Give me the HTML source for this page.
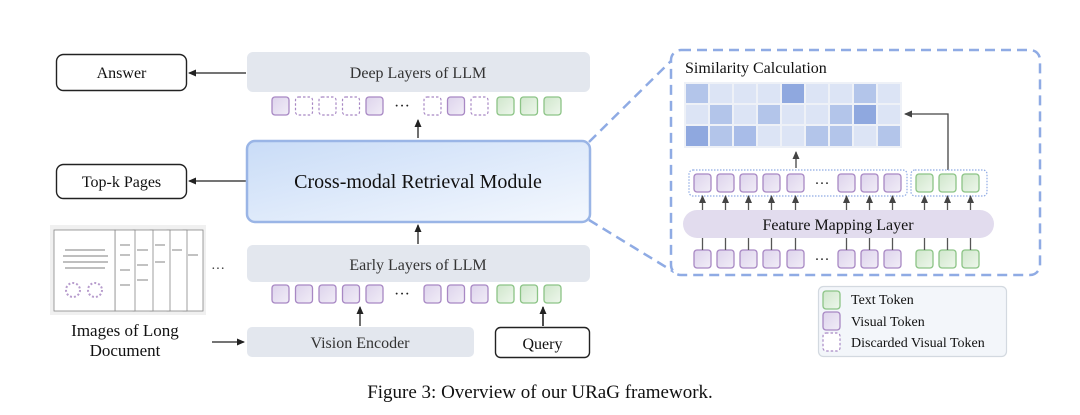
<!DOCTYPE html>
<html><head><meta charset="utf-8"><style>
html,body{margin:0;padding:0;background:#fff;}
svg{display:block;font-family:"Liberation Serif",serif;}
</style></head><body>
<svg width="1080" height="415" viewBox="0 0 1080 415" xmlns="http://www.w3.org/2000/svg">
<defs>
<marker id="ah" markerWidth="8" markerHeight="8" refX="7" refY="4" orient="auto" markerUnits="userSpaceOnUse"><path d="M0,0.5 L8,4 L0,7.5 Z" fill="#222"/></marker>
<marker id="ah2" markerWidth="8" markerHeight="8" refX="7" refY="4" orient="auto" markerUnits="userSpaceOnUse"><path d="M0,0.5 L8,4 L0,7.5 Z" fill="#444"/></marker>
<linearGradient id="cg" x1="0" y1="0" x2="1" y2="1"><stop offset="0" stop-color="#c9dcf7"/><stop offset="1" stop-color="#f4f8fe"/></linearGradient>
<linearGradient id="pt" x1="0" y1="0" x2="1" y2="1"><stop offset="0" stop-color="#ddd3ec"/><stop offset="1" stop-color="#f1edf7"/></linearGradient>
<linearGradient id="gt" x1="0" y1="0" x2="1" y2="1"><stop offset="0" stop-color="#cfe6cb"/><stop offset="1" stop-color="#eef7ec"/></linearGradient>
<g id="vt"><rect width="17" height="18" rx="3" fill="url(#pt)" stroke="#a888c4" stroke-width="1.3"/></g>
<g id="dt"><rect width="17" height="18" rx="3" fill="#fff" stroke="#a888c4" stroke-width="1.2" stroke-dasharray="2.5,2"/></g>
<g id="tt"><rect width="17" height="18" rx="3" fill="url(#gt)" stroke="#8cc486" stroke-width="1.3"/></g>
</defs>

<!-- Answer / Top-k -->
<rect x="56.5" y="54.5" width="130" height="36" rx="7" fill="#fff" stroke="#222" stroke-width="1.4"/>
<text x="121.5" y="78" font-size="16" text-anchor="middle" fill="#111">Answer</text>
<rect x="56.5" y="164.5" width="130" height="34" rx="7" fill="#fff" stroke="#222" stroke-width="1.4"/>
<text x="121.5" y="187" font-size="16" text-anchor="middle" fill="#111">Top-k Pages</text>
<line x1="246" y1="73" x2="189" y2="73" stroke="#222" stroke-width="1.3" marker-end="url(#ah)"/>
<line x1="246" y1="181" x2="189" y2="181" stroke="#222" stroke-width="1.3" marker-end="url(#ah)"/>

<!-- Deep layers -->
<rect x="247" y="52" width="343" height="40" rx="6" fill="#e3e7ee"/>
<text x="418" y="78" font-size="16" text-anchor="middle" fill="#333">Deep Layers of LLM</text>
<use href="#vt" x="272" y="97"/><use href="#dt" x="295.5" y="97"/><use href="#dt" x="319" y="97"/><use href="#dt" x="342.5" y="97"/><use href="#vt" x="366" y="97"/>
<text x="402" y="111" font-size="16" text-anchor="middle" fill="#222">···</text>
<use href="#dt" x="424" y="97"/><use href="#vt" x="447.5" y="97"/><use href="#dt" x="471" y="97"/>
<use href="#tt" x="497" y="97"/><use href="#tt" x="520.5" y="97"/><use href="#tt" x="544" y="97"/>
<line x1="418" y1="138" x2="418" y2="120" stroke="#222" stroke-width="1.3" marker-end="url(#ah)"/>

<!-- Cross-modal -->
<rect x="247" y="141" width="343" height="81" rx="8" fill="url(#cg)" stroke="#9ab5e6" stroke-width="2.5"/>
<text x="418" y="188" font-size="20" text-anchor="middle" fill="#111">Cross-modal Retrieval Module</text>
<line x1="418" y1="244" x2="418" y2="225" stroke="#222" stroke-width="1.3" marker-end="url(#ah)"/>

<!-- Early layers -->
<rect x="247" y="245" width="343" height="37" rx="6" fill="#e3e7ee"/>
<text x="418" y="270" font-size="16" text-anchor="middle" fill="#333">Early Layers of LLM</text>
<use href="#vt" x="272" y="285"/><use href="#vt" x="295.5" y="285"/><use href="#vt" x="319" y="285"/><use href="#vt" x="342.5" y="285"/><use href="#vt" x="366" y="285"/>
<text x="402" y="299" font-size="16" text-anchor="middle" fill="#222">···</text>
<use href="#vt" x="424" y="285"/><use href="#vt" x="447.5" y="285"/><use href="#vt" x="471" y="285"/>
<use href="#tt" x="497" y="285"/><use href="#tt" x="520.5" y="285"/><use href="#tt" x="544" y="285"/>
<line x1="360" y1="326" x2="360" y2="307" stroke="#222" stroke-width="1.3" marker-end="url(#ah)"/>
<line x1="543" y1="326" x2="543" y2="307" stroke="#222" stroke-width="1.6" marker-end="url(#ah)"/>

<!-- Vision encoder / query -->
<rect x="247" y="327" width="227" height="30" rx="5" fill="#e3e7ee"/>
<text x="360" y="348" font-size="16" text-anchor="middle" fill="#333">Vision Encoder</text>
<rect x="495.5" y="327.5" width="94" height="30" rx="5" fill="#fff" stroke="#222" stroke-width="1.4"/>
<text x="542.5" y="349" font-size="16" text-anchor="middle" fill="#111">Query</text>
<line x1="212" y1="342" x2="244" y2="342" stroke="#222" stroke-width="1.3" marker-end="url(#ah)"/>

<!-- Document images -->
<rect x="50" y="225" width="156" height="90" fill="#e6e6e6" opacity="0.6"/>
<g stroke="#888" stroke-width="0.8" fill="#fff">
<rect x="183" y="230" width="20" height="81"/>
<rect x="167" y="230" width="20" height="81"/>
<rect x="150" y="230" width="20" height="81"/>
<rect x="133" y="230" width="20" height="81"/>
<rect x="115" y="230" width="20" height="81"/>
<rect x="54" y="230" width="61" height="81"/>
</g>
<g stroke="#999" stroke-width="1.2">
<line x1="65" y1="250" x2="105" y2="250"/><line x1="63" y1="256" x2="108" y2="256"/><line x1="63" y1="262" x2="108" y2="262"/><line x1="65" y1="268" x2="105" y2="268"/>
<line x1="120" y1="245" x2="130" y2="245"/><line x1="120" y1="255" x2="130" y2="255"/><line x1="120" y1="270" x2="130" y2="270"/><line x1="120" y1="285" x2="130" y2="285"/>
<line x1="137" y1="250" x2="148" y2="250"/><line x1="137" y1="265" x2="148" y2="265"/><line x1="137" y1="280" x2="148" y2="280"/>
<line x1="155" y1="245" x2="165" y2="245"/><line x1="155" y1="262" x2="165" y2="262"/>
<line x1="172" y1="250" x2="182" y2="250"/><line x1="188" y1="255" x2="198" y2="255"/>
</g>
<circle cx="73" cy="290" r="7" fill="none" stroke="#b79ccd" stroke-width="2" stroke-dasharray="2,2"/>
<circle cx="95" cy="290" r="7" fill="none" stroke="#b79ccd" stroke-width="2" stroke-dasharray="2,2"/>
<text x="218" y="273" font-size="14" text-anchor="middle" fill="#333">···</text>
<text x="125" y="336" font-size="17" text-anchor="middle" fill="#111">Images of Long</text>
<text x="125" y="356" font-size="17" text-anchor="middle" fill="#111">Document</text>

<!-- Connecting dashed lines -->
<line x1="589" y1="142" x2="672" y2="60" stroke="#8fabe4" stroke-width="2.5" stroke-dasharray="10,6"/>
<line x1="589" y1="220" x2="674" y2="272" stroke="#8fabe4" stroke-width="2.5" stroke-dasharray="10,6"/>

<!-- Right panel -->
<rect x="671" y="50" width="369" height="225" rx="10" fill="#fff" stroke="#8fabe4" stroke-width="2.5" stroke-dasharray="10,6"/>
<text x="685" y="73" font-size="16" fill="#111">Similarity Calculation</text>
<rect x="684" y="82" width="218" height="66" fill="#eef1f7"/>
<g id="grid"></g>
<g>
<!-- row1 -->
<rect x="686" y="84" width="22" height="19" fill="#b3c5ea"/><rect x="710" y="84" width="22" height="19" fill="#dce4f5"/><rect x="734" y="84" width="22" height="19" fill="#dce4f5"/><rect x="758" y="84" width="22" height="19" fill="#dce4f5"/><rect x="782" y="84" width="22" height="19" fill="#8fa8df"/><rect x="806" y="84" width="22" height="19" fill="#dce4f5"/><rect x="830" y="84" width="22" height="19" fill="#dce4f5"/><rect x="854" y="84" width="22" height="19" fill="#b3c5ea"/><rect x="878" y="84" width="22" height="19" fill="#dce4f5"/>
<!-- row2 -->
<rect x="686" y="105" width="22" height="19" fill="#dce4f5"/><rect x="710" y="105" width="22" height="19" fill="#b3c5ea"/><rect x="734" y="105" width="22" height="19" fill="#dce4f5"/><rect x="758" y="105" width="22" height="19" fill="#b3c5ea"/><rect x="782" y="105" width="22" height="19" fill="#dce4f5"/><rect x="806" y="105" width="22" height="19" fill="#dce4f5"/><rect x="830" y="105" width="22" height="19" fill="#b3c5ea"/><rect x="854" y="105" width="22" height="19" fill="#8fa8df"/><rect x="878" y="105" width="22" height="19" fill="#dce4f5"/>
<!-- row3 -->
<rect x="686" y="126" width="22" height="20" fill="#8fa8df"/><rect x="710" y="126" width="22" height="20" fill="#b3c5ea"/><rect x="734" y="126" width="22" height="20" fill="#a8bce8"/><rect x="758" y="126" width="22" height="20" fill="#dce4f5"/><rect x="782" y="126" width="22" height="20" fill="#dce4f5"/><rect x="806" y="126" width="22" height="20" fill="#b3c5ea"/><rect x="830" y="126" width="22" height="20" fill="#b3c5ea"/><rect x="854" y="126" width="22" height="20" fill="#dce4f5"/><rect x="878" y="126" width="22" height="20" fill="#b3c5ea"/>
</g>
<line x1="796" y1="168" x2="796" y2="152" stroke="#444" stroke-width="1.3" marker-end="url(#ah2)"/>
<polyline points="948,170 948,114 905,114" fill="none" stroke="#444" stroke-width="1.3" marker-end="url(#ah2)"/>

<rect x="689" y="170" width="218" height="26" rx="4" fill="none" stroke="#8fabe4" stroke-width="1.2" stroke-dasharray="1.5,1.5"/>
<rect x="911" y="170" width="76" height="26" rx="4" fill="none" stroke="#8fabe4" stroke-width="1.2" stroke-dasharray="1.5,1.5"/>
<g>
<use href="#vt" x="694" y="174"/><use href="#vt" x="717" y="174"/><use href="#vt" x="740" y="174"/><use href="#vt" x="763" y="174"/><use href="#vt" x="787" y="174"/>
<use href="#vt" x="838" y="174"/><use href="#vt" x="861" y="174"/><use href="#vt" x="884" y="174"/>
<use href="#tt" x="916" y="174"/><use href="#tt" x="939" y="174"/><use href="#tt" x="962" y="174"/>
<use href="#vt" x="694" y="250"/><use href="#vt" x="717" y="250"/><use href="#vt" x="740" y="250"/><use href="#vt" x="763" y="250"/><use href="#vt" x="787" y="250"/>
<use href="#vt" x="838" y="250"/><use href="#vt" x="861" y="250"/><use href="#vt" x="884" y="250"/>
<use href="#tt" x="916" y="250"/><use href="#tt" x="939" y="250"/><use href="#tt" x="962" y="250"/>
</g>
<text x="822" y="188" font-size="15" text-anchor="middle" fill="#222">···</text>
<text x="822" y="264" font-size="15" text-anchor="middle" fill="#222">···</text>
<g stroke="#555" stroke-width="1.3" marker-end="url(#ah2)">
<line x1="702.5" y1="211" x2="702.5" y2="196"/><line x1="725.5" y1="211" x2="725.5" y2="196"/><line x1="748.5" y1="211" x2="748.5" y2="196"/><line x1="771.5" y1="211" x2="771.5" y2="196"/><line x1="795.5" y1="211" x2="795.5" y2="196"/>
<line x1="846.5" y1="211" x2="846.5" y2="196"/><line x1="869.5" y1="211" x2="869.5" y2="196"/><line x1="892.5" y1="211" x2="892.5" y2="196"/>
<line x1="924.5" y1="211" x2="924.5" y2="196"/><line x1="947.5" y1="211" x2="947.5" y2="196"/><line x1="970.5" y1="211" x2="970.5" y2="196"/>
</g>
<g stroke="#555" stroke-width="1.3">
<line x1="702.5" y1="250" x2="702.5" y2="237"/><line x1="725.5" y1="250" x2="725.5" y2="237"/><line x1="748.5" y1="250" x2="748.5" y2="237"/><line x1="771.5" y1="250" x2="771.5" y2="237"/><line x1="795.5" y1="250" x2="795.5" y2="237"/>
<line x1="846.5" y1="250" x2="846.5" y2="237"/><line x1="869.5" y1="250" x2="869.5" y2="237"/><line x1="892.5" y1="250" x2="892.5" y2="237"/>
<line x1="924.5" y1="250" x2="924.5" y2="237"/><line x1="947.5" y1="250" x2="947.5" y2="237"/><line x1="970.5" y1="250" x2="970.5" y2="237"/>
</g>
<rect x="683" y="210" width="311" height="28" rx="14" fill="#e2dcee"/>
<text x="838" y="230" font-size="16" text-anchor="middle" fill="#111">Feature Mapping Layer</text>

<!-- Legend -->
<rect x="818.5" y="286.5" width="188" height="70" rx="5" fill="#f3f6fa" stroke="#d3d9e0" stroke-width="1.2"/>
<use href="#tt" x="823" y="291"/><use href="#vt" x="823" y="312"/><use href="#dt" x="823" y="333"/>
<text x="851" y="304" font-size="14" fill="#111">Text Token</text>
<text x="851" y="326" font-size="14" fill="#111">Visual Token</text>
<text x="851" y="347" font-size="14" fill="#111">Discarded Visual Token</text>

<!-- Caption -->
<text x="540" y="398" font-size="19" text-anchor="middle" fill="#111">Figure 3: Overview of our URaG framework.</text>
</svg>
</body></html>
